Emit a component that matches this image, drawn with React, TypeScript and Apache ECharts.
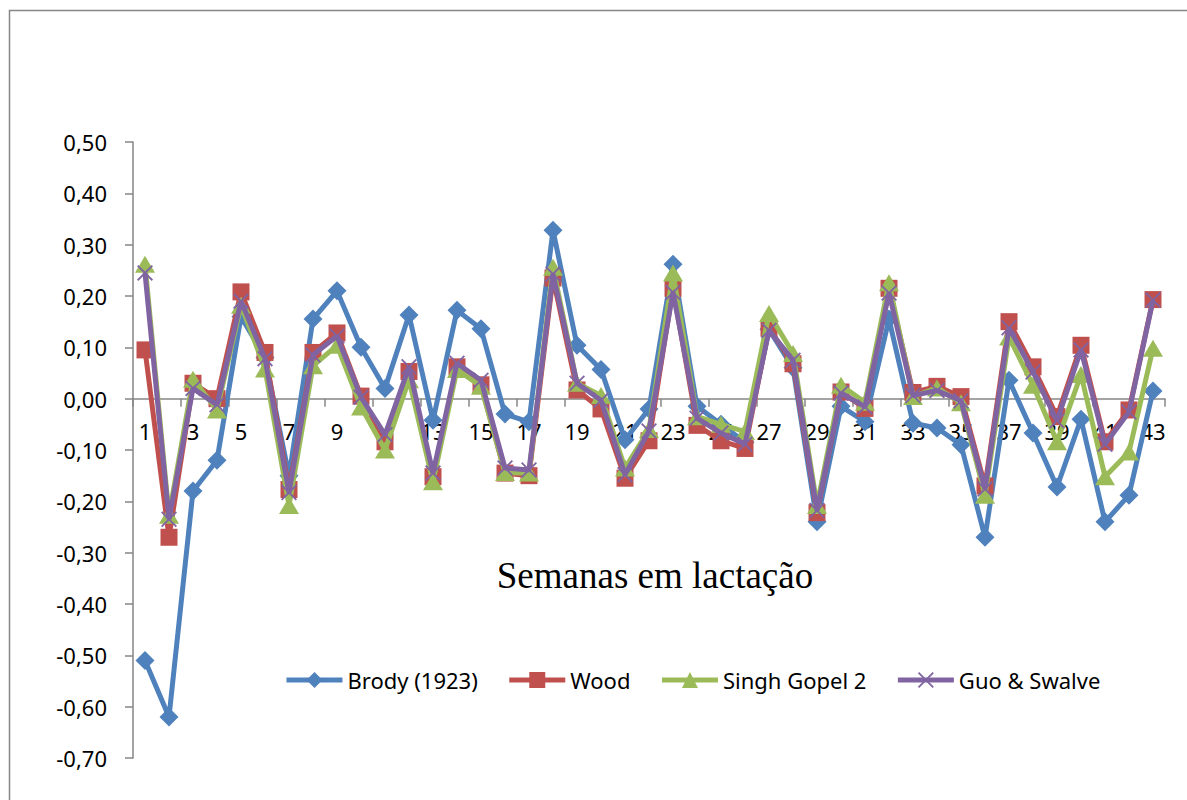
import React, { useEffect, useRef } from "react";
import * as echarts from "echarts";

const categories = ["1","2","3","4","5","6","7","8","9","10","11","12","13","14","15","16","17","18","19","20","21","22","23","24","25","26","27","28","29","30","31","32","33","34","35","36","37","38","39","40","41","42","43"];

const brody = [-0.51,-0.62,-0.18,-0.12,0.16,0.08,-0.15,0.155,0.21,0.10,0.02,0.163,-0.042,0.172,0.136,-0.03,-0.045,0.328,0.104,0.057,-0.08,-0.02,0.262,-0.015,-0.05,-0.085,0.135,0.06,-0.24,-0.015,-0.045,0.155,-0.048,-0.057,-0.09,-0.27,0.036,-0.067,-0.172,-0.04,-0.24,-0.188,0.015];
const wood = [0.095,-0.27,0.03,0.0,0.208,0.09,-0.177,0.09,0.128,0.005,-0.084,0.053,-0.152,0.062,0.027,-0.145,-0.15,0.235,0.017,-0.02,-0.155,-0.082,0.215,-0.052,-0.082,-0.097,0.137,0.068,-0.222,0.013,-0.019,0.215,0.012,0.024,0.004,-0.17,0.15,0.062,-0.035,0.104,-0.084,-0.022,0.193];
const singh = [0.262,-0.227,0.038,-0.022,0.182,0.058,-0.208,0.064,0.104,-0.016,-0.1,0.037,-0.162,0.057,0.024,-0.144,-0.145,0.256,0.03,0.006,-0.135,-0.06,0.245,-0.035,-0.05,-0.064,0.166,0.088,-0.208,0.026,-0.007,0.226,0.004,0.021,-0.008,-0.188,0.12,0.026,-0.084,0.047,-0.152,-0.104,0.098];
const guo = [0.245,-0.235,0.02,-0.012,0.19,0.078,-0.183,0.085,0.122,0.003,-0.07,0.062,-0.145,0.069,0.036,-0.135,-0.139,0.243,0.03,-0.003,-0.148,-0.063,0.207,-0.038,-0.067,-0.089,0.133,0.075,-0.218,0.011,-0.016,0.206,0.006,0.016,-0.004,-0.176,0.138,0.052,-0.043,0.095,-0.089,-0.026,0.192];

const seriesNames = ["Brody (1923)", "Wood", "Singh Gopel 2", "Guo & Swalve"];
const colors = ["#4F81BD", "#C0504D", "#9BBB59", "#8064A2"];
const axisTitle = "Semanas em lactação";

const X_PATH = "path://M0,1.6L1.6,0L10,8.4L18.4,0L20,1.6L11.6,10L20,18.4L18.4,20L10,11.6L1.6,20L0,18.4L8.4,10Z";

export default function App() {
  const ref = useRef<HTMLDivElement>(null);
  useEffect(() => {
    if (!ref.current) return;
    const chart = echarts.init(ref.current, null, { renderer: "svg" });
    const font = "'Noto Sans', sans-serif";
    const mk = (i: number, data: number[], symbol: string, size: any) => ({
      name: seriesNames[i],
      type: "line",
      data,
      z: 2 + i,
      symbol,
      symbolSize: size,
      showSymbol: true,
      showAllSymbol: true,
      color: colors[i],
      lineStyle: { width: 5, color: colors[i] },
      itemStyle: { color: colors[i], borderWidth: 0 },
    });
    const top = 142;
    const bottom = 758;
    const zeroY = top + (0.5 / 1.2) * (bottom - top);
    chart.setOption({
      animation: false,
      backgroundColor: "#ffffff",
      grid: { left: 133, right: 22, top, bottom: 800 - bottom, containLabel: false },
      legend: {
        left: 284,
        top: 669,
        padding: 0,
        itemWidth: 56,
        itemHeight: 20,
        itemGap: 29,
        lineStyle: { width: 5 },
        textStyle: { fontFamily: font, fontSize: 22, color: "#000" },
        data: seriesNames,
      },
      xAxis: {
        type: "category",
        data: categories,
        boundaryGap: true,
        position: "bottom",
        offset: -(bottom - zeroY),
        axisLine: { show: true, onZero: false, lineStyle: { color: "#868686", width: 1.5 } },
        axisTick: { show: true, interval: 1, length: 8, lineStyle: { color: "#868686", width: 1.5 } },
        axisLabel: { interval: 1, margin: 21, fontFamily: font, fontSize: 22, color: "#000" },
        splitLine: { show: false },
      },
      yAxis: {
        type: "value",
        min: -0.7,
        max: 0.5,
        interval: 0.1,
        axisLine: { show: true, onZero: false, lineStyle: { color: "#868686", width: 1.5 } },
        axisTick: { show: true, length: 8, lineStyle: { color: "#868686", width: 1.5 } },
        axisLabel: {
          margin: 26,
          fontFamily: font,
          fontSize: 22,
          color: "#000",
          formatter: (v: number) => v.toFixed(2).replace(".", ",").replace("-0,00", "0,00"),
        },
        splitLine: { show: false },
      },
      graphic: [
        {
          type: "rect",
          silent: true,
          shape: { x: 9.5, y: 10.5, width: 1200, height: 820 },
          style: { fill: "none", stroke: "#868686", lineWidth: 1.5 },
        },
        {
          type: "text",
          x: 655,
          y: 575,
          style: {
            text: axisTitle,
            fontFamily: "'Liberation Serif', 'Times New Roman', serif",
            fontSize: 37,
            fill: "#000",
            textAlign: "center",
            textVerticalAlign: "middle",
          },
        },
      ],
      series: [
        mk(0, brody, "diamond", 19),
        mk(1, wood, "rect", 17),
        mk(2, singh, "triangle", [20, 17]),
        mk(3, guo, X_PATH, 16),
      ],
    });
    return () => chart.dispose();
  }, []);
  return (
    <div
      ref={ref}
      style={{ position: "fixed", left: 0, top: 0, width: 1187, height: 800, background: "#fff" }}
    />
  );
}
